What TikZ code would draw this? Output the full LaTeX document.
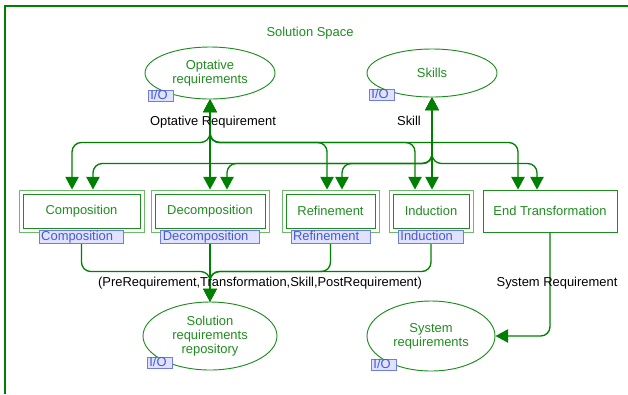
\documentclass[tikz,border=0pt]{standalone}
\usepackage{fontspec}
\setmainfont{Liberation Sans}
\usetikzlibrary{shapes.geometric,arrows.meta}

\definecolor{arcgreen}{RGB}{0,128,0}
\definecolor{placegreen}{RGB}{30,140,30}
\definecolor{boxlight}{RGB}{110,185,110}
\definecolor{tagfill}{RGB}{224,226,255}
\definecolor{tagdraw}{RGB}{110,125,225}
\definecolor{tagtext}{RGB}{70,90,210}

\begin{document}
\begin{tikzpicture}
	[x=0.75pt, y=-0.75pt,
	every node/.style={font=\fontsize{9.7}{10.5}\selectfont},
	place/.style={ellipse, draw=placegreen, line width=0.7pt, text=placegreen, align=center, inner sep=0pt},
	trans/.style={rectangle, draw=placegreen, line width=0.7pt, text=placegreen, minimum height=31.5pt},
	doubletrans/.style={trans, draw=boxlight, path picture={
		\draw[placegreen, line width=0.6pt] ([shift={(3pt,3pt)}]path picture bounding box.south west) rectangle ([shift={(-3pt,-3pt)}]path picture bounding box.north east);}},
	tag/.style={draw=tagdraw, fill=tagfill, text=tagtext, line width=0.6pt, inner xsep=1.5pt, inner ysep=0pt, text height=7.5pt, text depth=2pt, execute at end node=\hspace{#1}},
	tag/.default=6.5pt,
	iotag/.style={tag=3pt, text height=7pt, text depth=1pt},
	arc/.style={draw=arcgreen, line width=1pt, rounded corners=7pt, -{Triangle[length=9.5pt,width=10pt]}},
	biarc/.style={arc, {Triangle[length=9.5pt,width=10pt]}-{Triangle[length=9.5pt,width=10pt]}}]

	\useasboundingbox (0,0) rectangle (628,394);
	\draw[arcgreen, line width=1pt] (628,6) -- (5,6) -- (5,394);
	\node[text=placegreen] (title) at (310,33) {Solution Space};

	% places
	\node[place, minimum width=97.5pt, minimum height=39pt] (opt) at (210,73) {Optative\\requirements};
	\node[place, minimum width=97.5pt, minimum height=36pt] (skills) at (432,73) {Skills};
	\node[place, minimum width=100.5pt, minimum height=51pt] (repo) at (210,336) {Solution\\requirements\\repository};
	\node[place, minimum width=96pt, minimum height=52.5pt] (sysreq) at (431,336) {System\\requirements};

	% transitions
	\node[doubletrans, minimum width=93.75pt] (comp) at (81.5,211) {Composition};
	\node[doubletrans, minimum width=88.5pt] (decomp) at (210,211) {Decomposition};
	\node[doubletrans, minimum width=72.75pt] (refine) at (330.5,211) {Refinement};
	\node[doubletrans, minimum width=63pt] (induct) at (431,211) {Induction};
	\node[trans, minimum width=100.5pt] (endtr) at (550,211) {End Transformation};

	% arcs from the input places
	\foreach \t/\dx in {comp/-7.1pt, refine/-2.6pt, induct/-12pt, endtr/-24pt}
		\draw[biarc] (opt.south) -- ++(0,43) -| ([xshift=\dx]\t.north);
	\draw[biarc] (opt.south) -- (decomp.north);
	\foreach \t/\dx in {comp/8.6pt, decomp/12.75pt, refine/8.6pt, endtr/-9.75pt}
		\draw[biarc] (skills.south) -- ++(0,66) -| ([xshift=\dx]\t.north);
	\draw[biarc] (skills.south) -- (skills.south |- induct.north);

	% arcs to the output places
	\foreach \t in {comp, refine, induct}
		\draw[arc] (\t.south) |- ([yshift=22.5pt]repo.north) -- (repo.north);
	\draw[arc] (decomp.south) -- (repo.north);
	\draw[arc] (endtr.south) |- (sysreq.east);

	% arc inscriptions
	\node (optlabel) at (213,122) {Optative Requirement};
	\node (skilllabel) at (409,121) {Skill};
	\node (tuplabel) at (260,283) {(PreRequirement,Transformation,Skill,PostRequirement)};
	\node (syslabel) at (557,283) {System Requirement};

	% substitution and port tags
	\foreach \t/\txt in {comp/Composition, decomp/Decomposition, refine/Refinement, induct/Induction}
		\node[tag, anchor=north] (\t-tag) at ([yshift=1.5pt]\t.south) {\txt};
	\node[iotag, anchor=north west] (opt-io) at (148,90) {I/O};
	\node[iotag, anchor=north west] (skills-io) at (369,89) {I/O};
	\node[iotag, anchor=north west] (repo-io) at (147,357) {I/O};
	\node[iotag, anchor=north west] (sysreq-io) at (371,359) {I/O};
\end{tikzpicture}
\end{document}
